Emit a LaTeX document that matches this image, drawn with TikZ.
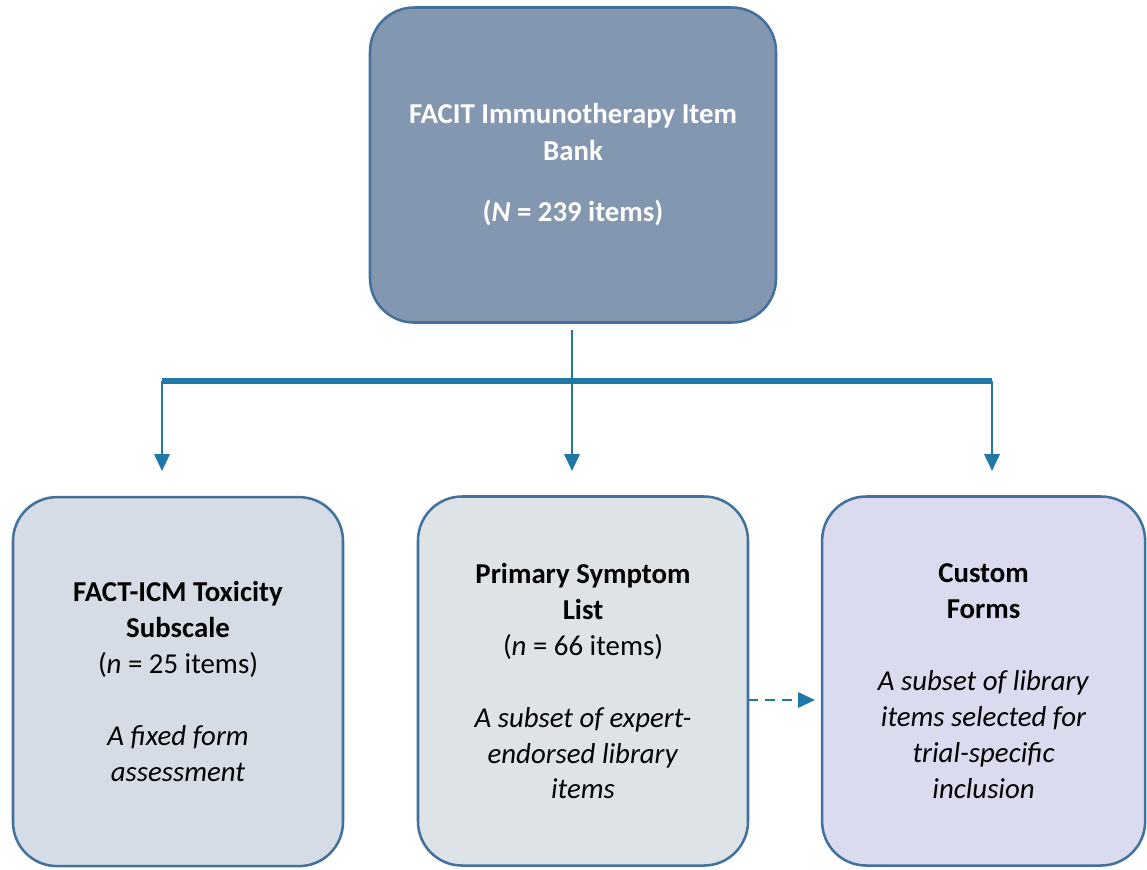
\documentclass[tikz,border=0pt]{standalone}
\usepackage{fontspec}
\setmainfont{Carlito}
\usetikzlibrary{arrows.meta}
\pgfdeclarelayer{edgelayer}
\pgfdeclarelayer{nodelayer}
\pgfsetlayers{edgelayer,nodelayer,main}
\definecolor{boxline}{HTML}{41719C}
\definecolor{bankfill}{HTML}{8497B0}
\definecolor{toxfill}{HTML}{D6DCE5}
\definecolor{listfill}{HTML}{DEE3E8}
\definecolor{formfill}{HTML}{DADBEF}
\definecolor{flowblue}{RGB}{31,120,166}
\tikzset{font=\fontsize{20.5}{25.6}\selectfont}
\tikzstyle{none}=[inner sep=0pt]
\tikzstyle{bank}=[rectangle,rounded corners=1.1cm,draw=boxline,line width=1.8pt,fill=bankfill,text=white,align=center,font=\fontsize{20.5}{26.3}\selectfont\bfseries,minimum width=10.15cm,minimum height=7.875cm]
\tikzstyle{subset}=[rectangle,rounded corners=1.1cm,draw=boxline,line width=1.8pt,text=black,align=center,font=\fontsize{20.5}{25.6}\selectfont,minimum width=8.25cm,minimum height=9.225cm]
\tikzstyle{flow}=[draw=flowblue,line width=1.8pt]
\tikzstyle{bar}=[draw=flowblue,line width=4.3pt]
\tikzstyle{arrow}=[flow,-{Triangle[length=0.42cm,width=0.38cm]}]
\tikzstyle{optional}=[flow,dash pattern=on 7pt off 5pt,-{Triangle[length=0.42cm,width=0.38cm]}]

\begin{document}
\begin{tikzpicture}
	\useasboundingbox (0,0) rectangle (28.675,-21.725);
	\begin{pgfonlayer}{nodelayer}
		\node [style=bank] (0) at (14.325, -4.125) {FACIT Immunotherapy Item\\Bank\\[0.6cm](\textit{N} = 239 items)};
		\node [style=subset,fill=toxfill] (1) at (4.45, -17.04) {\textbf{FACT-ICM Toxicity}\\\textbf{Subscale}\\(\textit{n} = 25 items)\\[0.9cm]\textit{A fixed form}\\\textit{assessment}};
		\node [style=subset,fill=listfill] (2) at (14.575, -17.025) {\textbf{Primary Symptom}\\\textbf{List}\\(\textit{n} = 66 items)\\[0.9cm]\textit{A subset of expert-}\\\textit{endorsed library}\\\textit{items}};
		\node [style=subset,fill=formfill,minimum width=8.075cm] (3) at (24.59, -17.025) {\textbf{Custom}\\\textbf{Forms}\\[0.9cm]\textit{A subset of library}\\\textit{items selected for}\\\textit{trial-specific}\\\textit{inclusion}};
		\node [style=none] (4) at (14.3, -8.25) {};
		\node [style=none] (5) at (14.3, -9.525) {};
		\node [style=none] (6) at (4.05, -9.525) {};
		\node [style=none] (7) at (24.8, -9.525) {};
		\node [style=none] (8) at (4.05, -11.775) {};
		\node [style=none] (9) at (14.3, -11.775) {};
		\node [style=none] (10) at (24.8, -11.775) {};
		\node [style=none] (11) at (18.7, -17.5) {};
		\node [style=none] (12) at (20.375, -17.5) {};
	\end{pgfonlayer}
	\begin{pgfonlayer}{edgelayer}
		\draw [style=flow] (4.center) to (5.center);
		\draw [style=bar] (6.center) to (7.center);
		\draw [style=arrow] (6.center) to (8.center);
		\draw [style=arrow] (5.center) to (9.center);
		\draw [style=arrow] (7.center) to (10.center);
		\draw [style=optional] (11.center) to (12.center);
	\end{pgfonlayer}
\end{tikzpicture}
\end{document}
